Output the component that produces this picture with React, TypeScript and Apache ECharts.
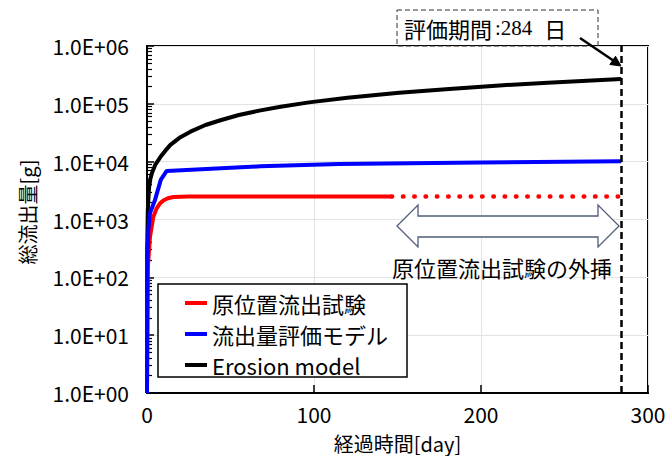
import React, { useEffect, useRef } from 'react';
import * as echarts from 'echarts';

// ---- data ----
const evalDays = 284;
const xMax = 300;
const xInterval = 100;
const yMin = 1;
const yMax = 1e6;

const seriesNames = ['原位置流出試験', '流出量評価モデル', 'Erosion model'];

const redDays = [0, 0.5, 1.8, 3.8, 5.8, 7.8, 9.8, 12.5, 15.8, 25, 146.5];
const redValues = [1, 150, 500, 1120, 1560, 1900, 2130, 2330, 2450, 2500, 2500];
const redExtDays = [146.5, 284];
const redExtValues = [2500, 2500];

const blueDays = [0, 0.05, 0.2, 0.8, 1.8, 4.8, 8.3, 11.8, 68, 115, 200, 284];
const blueValues = [1, 3, 180, 660, 1300, 2180, 4900, 6900, 8300, 9100, 9700, 10200];

const blackDays = [0, 0.1, 0.5, 1.2, 2, 3, 5, 8, 11, 14, 20, 26, 35, 44, 55, 68, 80, 97, 120, 151, 181, 211, 240, 284];
const blackValues = [1, 300, 1500, 3500, 5000, 6400, 8900, 12000, 15500, 19500, 26500, 33000, 43000, 52000, 64000, 77000, 89000, 106000, 127000, 155000, 181000, 208000, 232000, 268000];

const xTitle = '経過時間[day]';
const yTitle = '総流出量[g]';
const evalLabel = '評価期間';
const evalUnit = '日';
const extrapLabel = '原位置流出試験の外挿';

const FONT = "'Noto Sans CJK JP', sans-serif";
const SERIF = "'Liberation Serif', serif";

const zip = (xs: number[], ys: number[]) => xs.map((x, i) => [x, ys[i]]);

export default function App() {
  const ref = useRef<HTMLDivElement>(null);
  useEffect(() => {
    document.body.style.margin = '0';
    const chart = echarts.init(ref.current!, null, { renderer: 'svg' });
    const option: any = {
      animation: false,
      backgroundColor: '#fff',
      grid: {
        left: 147, right: 20, top: 46, bottom: 63,
        outerBoundsMode: 'none', containLabel: false,
        show: true, borderColor: '#000', borderWidth: 2, backgroundColor: 'transparent',
      },
      xAxis: {
        type: 'value', min: 0, max: xMax, interval: xInterval,
        name: xTitle, nameLocation: 'middle', nameGap: 40,
        nameTextStyle: { fontFamily: FONT, fontSize: 20, color: '#000' },
        axisLine: { show: true, lineStyle: { color: '#000', width: 2 } },
        axisTick: { show: true, inside: true, length: 8, lineStyle: { color: '#000', width: 1.5 } },
        axisLabel: { fontFamily: FONT, fontSize: 21, color: '#000', margin: 10 },
        splitLine: { show: true, lineStyle: { color: '#e3e3e3', width: 1 } },
      },
      yAxis: {
        type: 'log', logBase: 10, min: yMin, max: yMax, splitNumber: 6,
        axisLine: { show: true, lineStyle: { color: '#000', width: 2 } },
        axisTick: { show: true, inside: true, length: 7, lineStyle: { color: '#000', width: 1.5 } },
        minorTick: { show: true, splitNumber: 9, length: 5, lineStyle: { color: '#000', width: 1.2 } },
        axisLabel: {
          fontFamily: FONT, fontSize: 21, color: '#000', margin: 18,
          formatter: (v: number) => {
            const e = Math.round(Math.log10(v));
            return '1.0E+' + String(e).padStart(2, '0');
          },
        },
        splitLine: { show: true, lineStyle: { color: '#e3e3e3', width: 1 } },
        minorSplitLine: { show: false },
      },
      legend: {
        data: seriesNames.map((n) => ({ name: n, icon: 'rect' })),
        orient: 'vertical', left: 180, top: 287,
        itemWidth: 22, itemHeight: 4, itemGap: 9,
        textStyle: { fontFamily: FONT, fontSize: 22, color: '#000', lineHeight: 22 },
        selectedMode: false,
        z: 10,
      },
      series: [
        {
          name: seriesNames[2], type: 'line', data: zip(blackDays, blackValues),
          showSymbol: false, symbol: 'none',
          lineStyle: { color: '#000', width: 4 }, itemStyle: { color: '#000' }, z: 2,
        },
        {
          name: seriesNames[0], type: 'line', data: zip(redDays, redValues),
          showSymbol: false, symbol: 'none',
          lineStyle: { color: '#ff0000', width: 4 }, itemStyle: { color: '#ff0000' }, z: 3,
        },
        {
          name: seriesNames[0], type: 'line', data: zip(redExtDays, redExtValues),
          showSymbol: false, symbol: 'none',
          lineStyle: { color: '#ff0000', width: 4.5, type: [0.5, 10.8], cap: 'round' },
          itemStyle: { color: '#ff0000' }, z: 3,
          markLine: {
            silent: true, symbol: ['none', 'none'], label: { show: false },
            lineStyle: { color: '#000', type: [7, 4], width: 2.5 },
            data: [{ xAxis: evalDays }],
          },
        },
        {
          name: seriesNames[1], type: 'line', data: zip(blueDays, blueValues),
          showSymbol: false, symbol: 'none',
          lineStyle: { color: '#0000ff', width: 4 }, itemStyle: { color: '#0000ff' }, z: 4,
        },
      ],
      graphic: [
        {
          type: 'rect', z: 5,
          shape: { x: 158, y: 284, width: 249, height: 93 },
          style: { fill: '#fff', stroke: '#000', lineWidth: 1.5 },
        },
        {
          type: 'text', x: 27, y: 212, rotation: Math.PI / 2,
          style: { text: yTitle, font: `20px ${FONT}`, fill: '#000', align: 'center', verticalAlign: 'middle' },
        },
        {
          type: 'rect', z: 5,
          shape: { x: 397, y: 10, width: 201, height: 36 },
          style: { fill: 'none', stroke: '#333', lineWidth: 1, lineDash: [5, 3] },
        },
        {
          type: 'text', x: 404, y: 28, z: 6,
          style: {
            text: `{a|${evalLabel}}{b|:${evalDays}}{c|${evalUnit}}`,
            verticalAlign: 'middle',
            rich: {
              a: { fontFamily: FONT, fontSize: 22, fill: '#000', color: '#000' },
              b: { fontFamily: SERIF, fontSize: 21, fill: '#000', color: '#000', padding: [0, 0, 0, 3] },
              c: { fontFamily: FONT, fontSize: 22, fill: '#000', color: '#000', padding: [0, 0, 0, 12] },
            },
          },
        },
        {
          type: 'line', z: 6,
          shape: { x1: 580, y1: 38, x2: 614, y2: 61 },
          style: { stroke: '#000', lineWidth: 2.5 },
        },
        {
          type: 'polygon', z: 6,
          shape: { points: [[621, 66], [609.9, 64.5], [615.5, 56.3]] },
          style: { fill: '#000', stroke: '#000', lineWidth: 1 },
        },
        {
          type: 'polygon', z: 5,
          shape: {
            points: [
              [397, 226], [418, 205], [418, 216], [598, 216], [598, 205],
              [619, 226], [598, 247], [598, 237], [418, 237], [418, 247],
            ],
          },
          style: { fill: '#fff', stroke: '#4f5d7a', lineWidth: 1.3 },
        },
        {
          type: 'text', x: 502, y: 267, z: 6,
          style: { text: extrapLabel, font: `22px ${FONT}`, fill: '#000', align: 'center', verticalAlign: 'middle' },
        },
      ],
    };
    chart.setOption(option);
    return () => chart.dispose();
  }, []);
  return <div ref={ref} style={{ width: 668, height: 456 }} />;
}
